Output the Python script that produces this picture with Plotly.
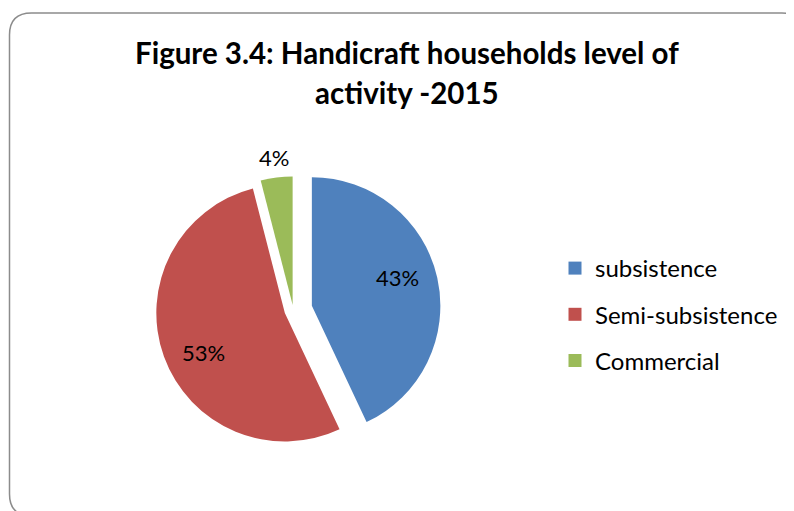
import math
import plotly.graph_objects as go

# ---- data ----
labels = ["subsistence", "Semi-subsistence", "Commercial"]
values = [43, 53, 4]
colors = ["#4F81BD", "#C0504D", "#9BBB59"]
pulls = [0.148, 0.07, 0.04]
label_inside = [True, True, False]
title_lines = ["Figure 3.4: Handicraft households level of", "activity -2015"]

W, H = 794, 511
FONT = "Lato"
OFF = 8  # page body margin

# pie geometry (figure pixels)
CX, CY, R = 293.3 - OFF, 310 - OFF, 128.5
box = 2 * R * (1 + max(pulls))

def px(x):
    return x / W

def py(y):
    return 1 - y / H

fig = go.Figure()

fig.add_trace(go.Pie(
    labels=labels,
    values=values,
    sort=False,
    direction="clockwise",
    rotation=0,
    pull=pulls,
    marker=dict(colors=colors, line=dict(width=0)),
    textinfo="none",
    domain=dict(x=[px(CX - box / 2), px(CX + box / 2)],
                y=[py(CY + box / 2), py(CY - box / 2)]),
    showlegend=False,
    hoverinfo="label+percent",
))

# percentage labels placed along each slice's bisector
total = sum(values)
cum = 0
for v, p, inside in zip(values, pulls, label_inside):
    mid = (cum + v / 2) / total * 2 * math.pi
    cum += v
    ax = CX + p * R * math.sin(mid)
    ay = CY - p * R * math.cos(mid)
    if inside:
        a = mid - math.radians(6)
        k = 0.7
    else:
        a = mid
        k = 1.16
    lx = ax + k * R * math.sin(a)
    ly = ay - k * R * math.cos(a)
    fig.add_annotation(
        text=f"{round(v / total * 100)}%", x=px(lx), y=py(ly),
        xref="paper", yref="paper", xanchor="center", yanchor="middle",
        showarrow=False, font=dict(family=FONT, size=22, color="black"),
    )

# legend entries (markers only, drawn by the legend)
for lab, col in zip(labels, colors):
    fig.add_trace(go.Scatter(
        x=[None], y=[None], mode="markers", name=lab, legendgroup=lab,
        marker=dict(symbol="square", size=13, color=col),
    ))

# rounded border
x0, y0, x1, y1, RR = 1.5, 5, 796, 508, 22
path = (
    f"M {px(x0)},{py(y0+RR)} L {px(x0)},{py(y1-RR)} "
    f"Q {px(x0)},{py(y1)} {px(x0+RR)},{py(y1)} "
    f"L {px(x1-RR)},{py(y1)} Q {px(x1)},{py(y1)} {px(x1)},{py(y1-RR)} "
    f"L {px(x1)},{py(y0+RR)} Q {px(x1)},{py(y0)} {px(x1-RR)},{py(y0)} "
    f"L {px(x0+RR)},{py(y0)} Q {px(x0)},{py(y0)} {px(x0)},{py(y0+RR)} Z"
)
fig.add_shape(type="path", path=path, xref="paper", yref="paper",
              line=dict(color="#8C8C8C", width=1.5))

for line, ypos in zip(title_lines, [52 - OFF, 92 - OFF]):
    fig.add_annotation(
        text=f"<b>{line}</b>", x=px(406.5 - OFF), y=py(ypos),
        xref="paper", yref="paper",
        xanchor="center", yanchor="middle", showarrow=False,
        font=dict(family=FONT, size=29.5, color="black"),
    )

fig.update_layout(
    width=W, height=H,
    margin=dict(l=0, r=0, t=0, b=0),
    paper_bgcolor="white", plot_bgcolor="white",
    xaxis=dict(visible=False), yaxis=dict(visible=False),
    legend=dict(
        x=px(547), y=py(238), xanchor="left", yanchor="top",
        font=dict(family=FONT, size=24, color="black"),
        tracegroupgap=12, bgcolor="rgba(0,0,0,0)",
    ),
    font=dict(family=FONT),
)

fig.write_html("out.html")
